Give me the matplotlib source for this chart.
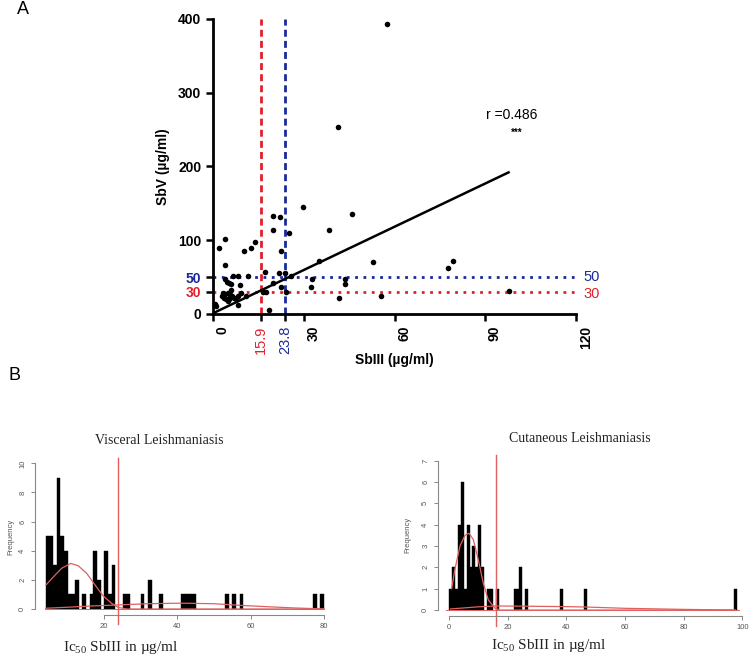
import matplotlib
matplotlib.use('Agg')
import matplotlib.pyplot as plt
from matplotlib.transforms import ScaledTranslation
import numpy as np

plt.rcParams['font.family'] = 'Liberation Sans'
plt.rcParams['mathtext.default'] = 'regular'

# ---- panel A: SbIII vs SbV scatter ----
sb3 = [0.6, 1.1, 2.1, 3.9, 3.9, 10.2, 12.4, 13.8, 6.6, 8.3, 11.6, 4.1, 4.7, 5.2,
       5.8, 8.8, 3.4, 4.0, 4.8, 5.5, 6.2, 6.8, 7.5, 3.6, 4.4, 5.2, 8.3, 9.4, 11.0,
       8.3, 17.3, 16.5, 17.6, 18.5, 19.8, 21.7, 22.4, 23.7, 24.2, 25.9,
       19.8, 22.0, 19.8, 25.0, 22.6, 29.7, 32.6, 32.3, 35.0, 38.3, 45.9, 41.7,
       43.5, 43.5, 53.0, 55.6, 77.6, 79.5, 97.7, 57.5, 41.3, 5.0, 6.0, 3.0]
sb5 = [13.6, 10.9, 89, 102, 66, 85, 90, 97, 52, 52, 51, 47, 44, 42,
       41, 39, 28, 27, 29, 26, 24, 22, 20, 22, 20, 21, 24, 28, 25,
       12, 57, 30, 30, 5, 42, 55, 37, 56, 30, 52,
       133, 131, 114, 110, 85, 145, 47.5, 36, 72, 114, 136, 22,
       48, 41, 70, 24, 63, 72, 31, 393, 254, 18, 32, 25]
fit_x = [0, 97.7]
fit_y = [1, 192]
cut_x = [15.9, 23.8]
cut_y = [30, 50]
xticks_a = [0, 30, 60, 90, 120]
yticks_a = [0, 100, 200, 300, 400]

# ---- panel B: histograms (bin left edge, count), width 1 ----
vl_left = [4, 5, 6, 7, 8, 9, 10, 11, 12, 14, 16, 17, 18, 20, 21, 22, 25, 26, 30,
           32, 35, 41, 42, 43, 44, 53, 55, 57, 77, 79]
vl_count = [5, 5, 3, 9, 5, 4, 1, 1, 2, 1, 1, 4, 2, 4, 1, 3, 1, 1, 1,
            2, 1, 1, 1, 1, 1, 1, 1, 1, 1, 1]
vl_c1_x = [4.1, 6.1, 8.4, 10.9, 12.9, 15.2, 17.5, 19.7, 22.0, 23.8, 26.1, 40, 60, 80]
vl_c1_y = [1.65, 2.2, 2.8, 3.13, 2.97, 2.45, 1.65, 0.9, 0.39, 0.11, 0.0, 0.0, 0.0, 0.0]
vl_c2_x = [4, 10, 16, 24, 32, 41, 50, 57, 65, 72, 80]
vl_c2_y = [0.05, 0.12, 0.2, 0.28, 0.36, 0.4, 0.36, 0.25, 0.15, 0.07, 0.0]

cl_left = [0, 1, 2, 3, 4, 5, 6, 7, 8, 9, 10, 11, 13, 14, 16, 22, 23, 24, 26, 38, 46, 97]
cl_count = [1, 2, 1, 4, 6, 1, 4, 2, 3, 2, 4, 2, 1, 1, 1, 1, 1, 2, 1, 1, 1, 1]
cl_c1_x = [0.9, 2.0, 3.75, 5.45, 6.8, 8.3, 10.0, 11.7, 13.4, 15.7, 17.4, 40, 97.5]
cl_c1_y = [1.0, 1.9, 3.0, 3.5, 3.6, 3.3, 2.35, 1.25, 0.47, 0.08, 0.0, 0.0, 0.0]
cl_c2_x = [0.5, 10, 16, 25, 40, 47, 60, 80, 97.5]
cl_c2_y = [0.05, 0.15, 0.19, 0.18, 0.16, 0.14, 0.08, 0.03, 0.0]

red = '#e0202c'
blue = '#1a2a9a'
hred = '#e06060'
W, H = 750, 655

fig = plt.figure(figsize=(7.5, 6.55), dpi=100)

def box(l, t, r, b):
    return [l / W, 1 - b / H, (r - l) / W, (b - t) / H]

# Panel A
ax = fig.add_axes(box(213, 19, 576, 314))
ax.scatter(sb3, sb5, s=16, c='black', linewidths=0, zorder=4, clip_on=False)
ax.plot(fit_x, fit_y, color='black', lw=1.8, zorder=3)
ax.axvline(cut_x[0], color=red, lw=2, ls=(0, (2.5, 1.5)))
ax.axvline(cut_x[1], color=blue, lw=2, ls=(0, (2.5, 1.5)))
ax.axhline(cut_y[1], color=blue, lw=2, ls=(0, (1, 2)))
ax.axhline(cut_y[0], color=red, lw=2, ls=(0, (1, 2)))
ax.set_xlim(0, 120)
ax.set_ylim(0, 400)
for s in ['top', 'right']:
    ax.spines[s].set_visible(False)
for s in ['left', 'bottom']:
    ax.spines[s].set_linewidth(2)
ax.tick_params(direction='out', length=5, width=1.8)

ax.set_yticks(yticks_a + cut_y)
ax.set_yticklabels([str(v) for v in yticks_a] + [str(v) for v in cut_y],
                   fontsize=10, fontweight='bold')
for lab, c in zip(ax.get_yticklabels()[-2:], [red, blue]):
    lab.set_color(c)

ax.set_xticks(xticks_a + cut_x)
ax.set_xticklabels([str(v) for v in xticks_a] + ['15.9', '23.8'], rotation=90, fontsize=10)
off = ScaledTranslation(7 / 72, 0, fig.dpi_scale_trans)
for lab in ax.get_xticklabels()[:5]:
    lab.set_fontweight('bold')
    lab.set_transform(lab.get_transform() + off)
for lab, c in zip(ax.get_xticklabels()[5:], [red, blue]):
    lab.set_color(c)
    lab.set_fontsize(10.5)

ax.set_xlabel('SbIII (µg/ml)', fontsize=10, fontweight='bold', labelpad=-1)
ax.set_ylabel('SbV (µg/ml)', fontsize=10, fontweight='bold', labelpad=6)
ax.text(122.5, cut_y[1], '50', color=blue, fontsize=10.5, va='center', clip_on=False)
ax.text(122.5, cut_y[0] - 3, '30', color=red, fontsize=10.5, va='center', clip_on=False)
ax.text(98.7, 270, 'r =0.486', fontsize=10, ha='center', va='center')
ax.text(100.3, 246, '***', fontsize=7, fontweight='bold', ha='center', va='center')

fig.text(23 / W, 1 - 9 / H, 'A', fontsize=13, ha='center', va='center')
fig.text(14 / W, 1 - 376 / H, 'B', fontsize=13, ha='center', va='center')


def hist_panel(rect, left, count, c1x, c1y, c2x, c2y, vline, xlim, ylim,
               xb, yb, xt, yt, title, tpos, lpos, fpos):
    a = fig.add_axes(rect)
    a.bar(left, count, width=1, align='edge', color='black', edgecolor='black', lw=0.3)
    a.plot(c1x, c1y, color=hred, lw=0.9)
    a.plot(c2x, c2y, color=hred, lw=0.9)
    a.plot([xlim[0] + 3, xlim[1] - 3], [0, 0], color=hred, lw=0.7)
    a.plot([vline, vline], [ylim[0] - 0.06 * (ylim[1] - ylim[0]), ylim[1]],
           color=hred, lw=1, clip_on=False)
    a.set_xlim(*xlim)
    a.set_ylim(*ylim)
    for s in ['top', 'right']:
        a.spines[s].set_visible(False)
    a.spines['left'].set_bounds(*yb)
    a.spines['bottom'].set_bounds(*xb)
    for s in ['left', 'bottom']:
        a.spines[s].set_color('#888888')
        a.spines[s].set_linewidth(0.8)
    a.set_xticks(xt)
    a.set_yticks(yt)
    a.tick_params(length=3, width=0.7, colors='#888888', labelcolor='#555555',
                  labelsize=5.5, pad=3)
    for lab in a.get_yticklabels():
        lab.set_rotation(90)
        lab.set_va('center')
    fig.text(tpos[0] / W, 1 - tpos[1] / H, title, family='Liberation Serif',
             fontsize=10, ha='center', va='center', color='#222222')
    fig.text(lpos[0] / W, 1 - lpos[1] / H, 'Ic$_{50}$ SbIII in µg/ml',
             family='Liberation Serif', fontsize=11, ha='center', va='center',
             color='#222222')
    fig.text(fpos[0] / W, 1 - fpos[1] / H, 'Frequency', fontsize=5.5,
             rotation=90, ha='center', va='center', color='#555555')
    return a


hist_panel(box(34.5, 457.5, 335, 614.8), vl_left, vl_count,
           vl_c1_x, vl_c1_y, vl_c2_x, vl_c2_y, 23.8, (0.96, 83.04), (-0.4, 10.4),
           (20, 80), (0, 10), [20, 40, 60, 80], [0, 2, 4, 6, 8, 10],
           'Visceral Leishmaniasis', (159, 441), (121, 648), (11, 537))
hist_panel(box(437.5, 454.7, 748, 616), cl_left, cl_count,
           cl_c1_x, cl_c1_y, cl_c2_x, cl_c2_y, 15.9, (-3.92, 101.92), (-0.28, 7.28),
           (0, 100), (0, 7), [0, 20, 40, 60, 80, 100], list(range(8)),
           'Cutaneous Leishmaniasis', (580, 438), (549, 645), (408, 535))

fig.savefig('out.png', dpi=100)
